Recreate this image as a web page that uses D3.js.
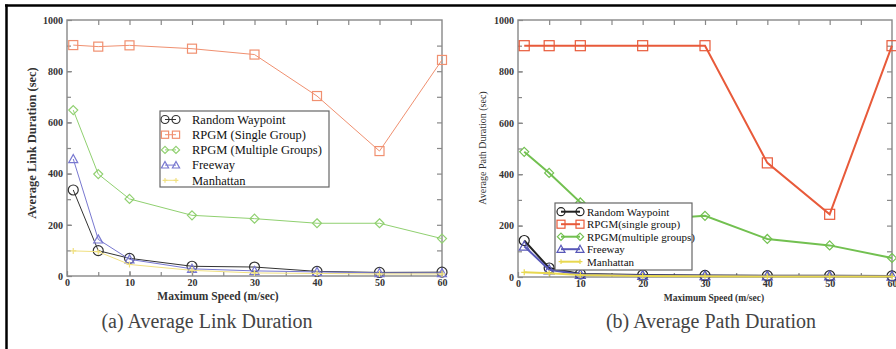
<!DOCTYPE html>
<html>
<head>
<meta charset="utf-8">
<script src="https://cdn.jsdelivr.net/npm/d3@7"></script>
<style>
  body { margin: 0; background: #fff; }
</style>
</head>
<body>
<div id="chart-area"></div>
<script>
// shared x values (maximum speed, m/sec)
const speeds = [1, 5, 10, 20, 30, 40, 50, 60]
const xTicks = [0, 10, 20, 30, 40, 50, 60]
const yTicks = [0, 200, 400, 600, 800, 1000]

// (a) average link duration
const linkNames = ['Random Waypoint', 'RPGM (Single Group)', 'RPGM (Multiple Groups)', 'Freeway', 'Manhattan']
const linkRW = [336, 99, 69, 38, 35, 18, 14, 15]
const linkSingle = [902, 896, 901, 888, 865, 703, 488, 844]
const linkMulti = [648, 398, 301, 237, 224, 206, 206, 146]
const linkFreeway = [457, 143, 65, 28, 20, 16, 12, 12]
const linkManhattan = [98, 95, 45, 22, 12, 10, 8, 8]

// (b) average path duration
const pathNames = ['Random Waypoint', 'RPGM(single group)', 'RPGM(multiple groups)', 'Freeway', 'Manhattan']
const pathRW = [142, 35, 12, 8, 6, 5, 5, 4]
const pathSingle = [900, 900, 900, 900, 900, 444, 244, 900]
const pathMulti = [487, 405, 290, 222, 238, 148, 123, 74]
const pathFreeway = [120, 28, 10, 6, 5, 4, 4, 3]
const pathManhattan = [18, 15, 8, 4, 3, 2, 2, 2]

const FONT = 'Liberation Serif'

const svg = d3.select('#chart-area')
    .append('svg')
    .attr('width', 896)
    .attr('height', 349)

svg.append('rect').attr('width', 896).attr('height', 349).attr('fill', '#fff')

// outer frame (only top + left edges visible)
svg.append('line').attr('x1', 5).attr('x2', 896).attr('y1', 5.5).attr('y2', 5.5)
    .attr('stroke', '#000').attr('stroke-width', 2.5)
svg.append('line').attr('x1', 6.5).attr('x2', 6.5).attr('y1', 4.5).attr('y2', 349)
    .attr('stroke', '#000').attr('stroke-width', 2.5)

function marker(g, shape, x, y, color, size, sw) {
    if (shape === 'circle') {
        g.append('circle').attr('cx', x).attr('cy', y).attr('r', size)
            .attr('fill', 'none').attr('stroke', color).attr('stroke-width', sw)
    } else if (shape === 'square') {
        g.append('rect').attr('x', x - size).attr('y', y - size)
            .attr('width', size * 2).attr('height', size * 2)
            .attr('fill', 'none').attr('stroke', color).attr('stroke-width', sw)
    } else if (shape === 'diamond') {
        g.append('path')
            .attr('d', `M${x},${y - size}L${x + size},${y}L${x},${y + size}L${x - size},${y}Z`)
            .attr('fill', 'none').attr('stroke', color).attr('stroke-width', sw)
    } else if (shape === 'triangle') {
        g.append('path')
            .attr('d', `M${x},${y - size}L${x + size},${y + size * 0.8}L${x - size},${y + size * 0.8}Z`)
            .attr('fill', 'none').attr('stroke', color).attr('stroke-width', sw)
    } else if (shape === 'plus') {
        g.append('path')
            .attr('d', `M${x},${y - size}V${y + size}M${x - size},${y}H${x + size}`)
            .attr('fill', 'none').attr('stroke', color).attr('stroke-width', sw)
    }
}

function drawPanel(p) {
    const x = d3.scaleLinear().domain([0, 60]).range([p.left, p.right])
    const y = d3.scaleLinear().domain([0, 1000]).range([p.bottom, p.top])
    const g = svg.append('g')

    // frame
    g.append('rect')
        .attr('x', p.left).attr('y', p.top)
        .attr('width', p.right - p.left).attr('height', p.bottom - p.top)
        .attr('fill', 'none').attr('stroke', '#888').attr('stroke-width', 1.4)

    const tickStyle = sel => {
        sel.select('.domain').remove()
        sel.selectAll('line').attr('stroke', '#888').attr('stroke-width', 1.2)
        sel.selectAll('text').attr('fill', '#333').attr('font-size', 10)
            .attr('font-weight', 'bold').style('font-family', FONT)
    }

    // x axis, ticks pointing inward
    g.append('g').attr('transform', `translate(0,${p.bottom})`)
        .call(d3.axisBottom(x).tickValues(xTicks).tickSize(-5).tickPadding(3).tickFormat(d3.format('d')))
        .call(tickStyle)
    g.append('g').attr('transform', `translate(0,${p.bottom})`)
        .call(d3.axisBottom(x).tickValues(d3.range(5, 60, 5)).tickSize(-4).tickFormat(''))
        .call(tickStyle)
    g.append('g').attr('transform', `translate(0,${p.top})`)
        .call(d3.axisTop(x).tickValues(d3.range(5, 60, 5)).tickSize(-5).tickFormat(''))
        .call(tickStyle)

    // y axis
    g.append('g').attr('transform', `translate(${p.left},0)`)
        .call(d3.axisLeft(y).tickValues(yTicks).tickSize(-5).tickPadding(4).tickFormat(d3.format('d')))
        .call(tickStyle)
    g.append('g').attr('transform', `translate(${p.left},0)`)
        .call(d3.axisLeft(y).tickValues(d3.range(100, 1000, 100)).tickSize(-4).tickFormat(''))
        .call(tickStyle)
    g.append('g').attr('transform', `translate(${p.right},0)`)
        .call(d3.axisRight(y).tickValues(d3.range(100, 1000, 100)).tickSize(-5).tickFormat(''))
        .call(tickStyle)

    // axis titles
    g.append('text')
        .attr('x', p.xTitleX).attr('y', p.bottom + 24)
        .attr('text-anchor', 'middle').attr('font-size', p.xTitleSize)
        .style('font-family', FONT)
        .attr('font-weight', 'bold').attr('fill', '#333')
        .text('Maximum Speed (m/sec)')
    g.append('text')
        .attr('transform', `translate(${p.yTitleX},${p.yTitleY}) rotate(-90)`)
        .attr('text-anchor', 'middle').attr('font-size', p.yTitleSize)
        .style('font-family', FONT)
        .attr('font-weight', p.yTitleWeight).attr('fill', '#333')
        .text(p.yTitle)

    // series
    const line = d3.line().x((d, i) => x(speeds[i])).y(d => y(d))
    p.series.forEach(s => {
        g.append('path').datum(s.values)
            .attr('d', line).attr('fill', 'none')
            .attr('stroke', s.color).attr('stroke-width', p.lineWidth)
        const mg = g.append('g')
        s.values.forEach((v, i) => marker(mg, s.shape, x(speeds[i]), y(v), s.color, s.size, 1.2))
    })

    // legend
    const L = p.legend
    g.append('rect').attr('x', L.x).attr('y', L.y).attr('width', L.w).attr('height', L.h)
        .attr('fill', '#fff').attr('stroke', '#666').attr('stroke-width', 1.2)
    p.series.forEach((s, i) => {
        const ly = L.y + L.first + i * L.step
        g.append('line').attr('x1', L.sx1).attr('x2', L.sx2).attr('y1', ly).attr('y2', ly)
            .attr('stroke', s.color).attr('stroke-width', p.lineWidth)
        const mg = g.append('g')
        marker(mg, s.shape, L.sx1, ly, s.color, s.size * L.mscale, 1.2)
        marker(mg, s.shape, L.sx2, ly, s.color, s.size * L.mscale, 1.2)
        g.append('text').attr('x', L.tx).attr('y', ly + L.fontSize * 0.35)
            .attr('font-size', L.fontSize).attr('fill', '#111')
            .style('font-family', FONT).attr('font-weight', L.weight)
            .text(p.names[i])
    })

    // caption
    svg.append('text')
        .attr('x', p.capX).attr('y', 328)
        .attr('text-anchor', 'middle').attr('font-size', 20).attr('fill', '#444')
        .style('font-family', FONT)
        .text(p.caption)
}

drawPanel({
    left: 67, right: 442, top: 20, bottom: 276,
    lineWidth: 1,
    xTitleX: 218, xTitleSize: 11.5,
    yTitle: 'Average Link Duration (sec)', yTitleX: 36, yTitleY: 143, yTitleSize: 12.5, yTitleWeight: 'bold',
    names: linkNames,
    series: [
        { values: linkRW, color: '#333', shape: 'circle', size: 5 },
        { values: linkSingle, color: '#f09070', shape: 'square', size: 4.5 },
        { values: linkMulti, color: '#90d070', shape: 'diamond', size: 4.5 },
        { values: linkFreeway, color: '#7878d0', shape: 'triangle', size: 4.5 },
        { values: linkManhattan, color: '#f0e080', shape: 'plus', size: 3 }
    ],
    legend: { x: 160, y: 111, w: 169, h: 76, first: 8.5, step: 15.2, sx1: 165, sx2: 176, tx: 192, fontSize: 12.5, weight: 'normal', mscale: 0.8 },
    caption: '(a) Average Link Duration', capX: 207
})

drawPanel({
    left: 518, right: 892, top: 20, bottom: 277,
    lineWidth: 2,
    xTitleX: 714, xTitleSize: 9.5,
    yTitle: 'Average Path Duration (sec)', yTitleX: 486, yTitleY: 148, yTitleSize: 10, yTitleWeight: 'normal',
    names: pathNames,
    series: [
        { values: pathRW, color: '#222', shape: 'circle', size: 5 },
        { values: pathSingle, color: '#e85a3a', shape: 'square', size: 5 },
        { values: pathMulti, color: '#72c050', shape: 'diamond', size: 4.5 },
        { values: pathFreeway, color: '#5858b8', shape: 'triangle', size: 5 },
        { values: pathManhattan, color: '#e8d850', shape: 'plus', size: 3 }
    ],
    legend: { x: 555, y: 203, w: 137, h: 67, first: 8.7, step: 12.5, sx1: 561, sx2: 580, tx: 587, fontSize: 11, weight: 'normal', mscale: 0.8 },
    caption: '(b) Average Path Duration', capX: 711
})
</script>
</body>
</html>
